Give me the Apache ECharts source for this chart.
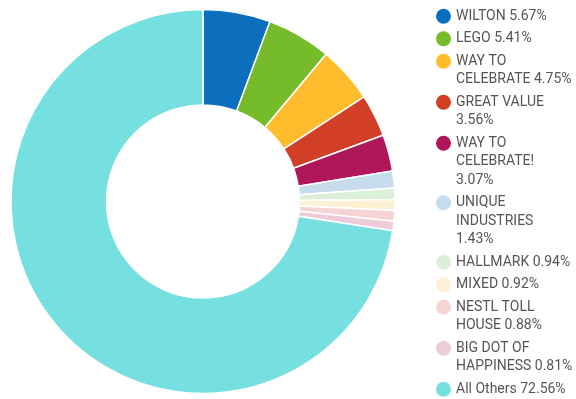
<!DOCTYPE html>
<html><head><meta charset="utf-8">
<script src="https://cdn.jsdelivr.net/npm/echarts@6/dist/echarts.min.js"></script>
<style>html,body{margin:0;padding:0;background:#fff}#c{width:576px;height:399px}</style>
</head><body><div id="c"></div>
<script>
const categories = ["WILTON","LEGO","WAY TO CELEBRATE","GREAT VALUE","WAY TO CELEBRATE!","UNIQUE INDUSTRIES","HALLMARK","MIXED","NESTL TOLL HOUSE","BIG DOT OF HAPPINESS","All Others"];
const legendLines = [["WILTON 5.67%"],["LEGO 5.41%"],["WAY TO","CELEBRATE 4.75%"],["GREAT VALUE","3.56%"],["WAY TO","CELEBRATE!","3.07%"],["UNIQUE","INDUSTRIES","1.43%"],["HALLMARK 0.94%"],["MIXED 0.92%"],["NESTL TOLL","HOUSE 0.88%"],["BIG DOT OF","HAPPINESS 0.81%"],["All Others 72.56%"]];
const shares = [5.67,5.41,4.75,3.56,3.07,1.43,0.94,0.92,0.88,0.81,72.56];
const colors = ["#0b6fbd","#76bc2a","#ffbd2e","#d23f27","#b0175a","#c6dced","#dcefd8","#fdf0d4","#f5d4d4","#ecccd9","#76dfe0"];
const chart = echarts.init(document.getElementById('c'));
const data = categories.map((n,i)=>({name:n,value:shares[i]}));
const LH = 18.5;
const rich = {
  t:{fontFamily:'Roboto',fontSize:14,color:'#555',lineHeight:LH},
  g:{width:5,lineHeight:LH},
  sp:{width:20,lineHeight:LH}
};
colors.forEach((c,i)=>{rich['d'+i]={width:15,height:15,borderRadius:7.5,backgroundColor:c,lineHeight:LH};});
chart.setOption({
  animation:false,
  color:colors,
  legend:{
    orient:'vertical', left:431, top:7, height:420, icon:'none', itemWidth:0, itemHeight:14, itemGap:4, padding:0,
    formatter:function(name){
      const i=categories.indexOf(name);
      return legendLines[i].map((ln,k)=> (k===0?'{d'+i+'|}{g|}':'{sp|}')+'{t|'+ln+'}').join('\n');
    },
    textStyle:{fontFamily:'Roboto',fontSize:14,color:'#555',lineHeight:LH,padding:0,rich:rich}
  },
  series:[{
    type:'pie', center:[203,201.5], radius:[96.5,192], startAngle:90, clockwise:true,
    label:{show:false}, labelLine:{show:false}, emphasis:{disabled:true},
    itemStyle:{borderColor:'#fff',borderWidth:1.5},
    data:data
  }]
});
</script></body></html>
